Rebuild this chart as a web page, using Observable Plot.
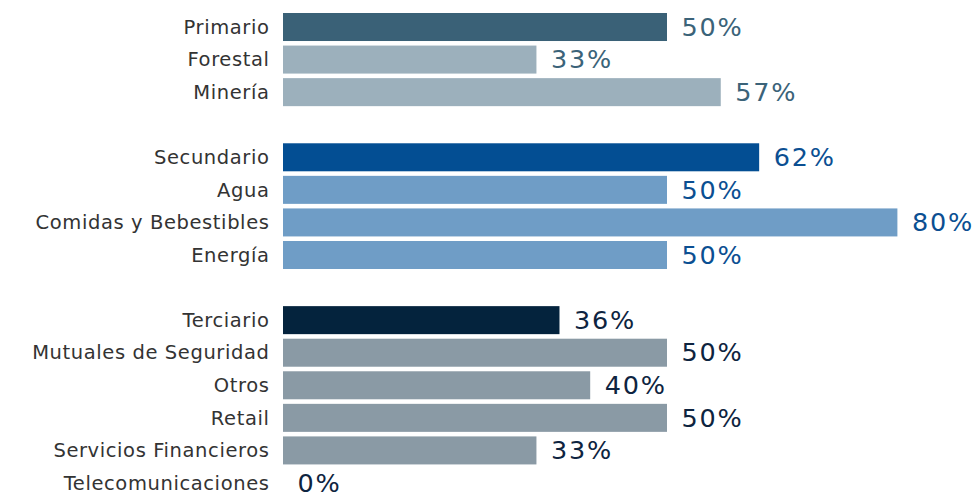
<!DOCTYPE html>
<html><head><meta charset="utf-8">
<script src="https://cdn.jsdelivr.net/npm/d3@7"></script>
<script src="https://cdn.jsdelivr.net/npm/@observablehq/plot@0.6"></script>
<style>
body{margin:0;background:#fff}
g[aria-label="y-axis tick label"] text{letter-spacing:0.6px}
.vlabel text{letter-spacing:1.8px}
</style>
</head><body><div id="chart"></div>
<script>
const categories = ["Primario","Forestal","Minería","Secundario","Agua","Comidas y Bebestibles","Energía","Terciario","Mutuales de Seguridad","Otros","Retail","Servicios Financieros","Telecomunicaciones"];
const values = [50,33,57,62,50,80,50,36,50,40,50,33,0];
const sectors = ["Primario","Primario","Primario","Secundario","Secundario","Secundario","Secundario","Terciario","Terciario","Terciario","Terciario","Terciario","Terciario"];
const isSectorTotal = [true,false,false,true,false,false,false,true,false,false,false,false,false];

// styles
const barColors = {
  "Primario|total":"#3a6177","Primario|sub":"#9cb0bc",
  "Secundario|total":"#034e93","Secundario|sub":"#6f9dc6",
  "Terciario|total":"#04233d","Terciario|sub":"#8a9aa5"
};
const labelColors = {Primario:"#3b6379",Secundario:"#0b4f92",Terciario:"#0e2440"};

const data = categories.map((c,i)=>({
  category:c, value:values[i], sector:sectors[i],
  key: sectors[i] + (isSectorTotal[i] ? "|total" : "|sub")
}));

const domain = [];
data.forEach((d,i)=>{
  if (i>0 && d.sector !== data[i-1].sector) domain.push("_gap" + i);
  domain.push(d.category);
});

const chart = Plot.plot({
  width:980, height:497,
  marginLeft:283, marginRight:82.6, marginTop:13, marginBottom:0,
  style:{fontFamily:"'DejaVu Sans', sans-serif", background:"#fff"},
  x:{domain:[0,80], axis:null},
  y:{domain, paddingInner:0.14, paddingOuter:0, round:false, axis:null},
  color:{domain:Object.keys(barColors), range:Object.values(barColors)},
  marks:[
    Plot.axisY({tickSize:0, tickPadding:14, fontSize:19.5, color:"#333", label:null,
      tickFormat:d=>d.startsWith("_gap")?"":d}),
    Plot.barX(data,{y:"category", x:"value", fill:"key"}),
    Plot.text(data,{y:"category", x:"value", text:d=>d.value+"%", textAnchor:"start", dx:14,
      fontSize:25.5, className:"vlabel", fill:d=>labelColors[d.sector]})
  ]
});
document.getElementById("chart").append(chart);
</script></body></html>
